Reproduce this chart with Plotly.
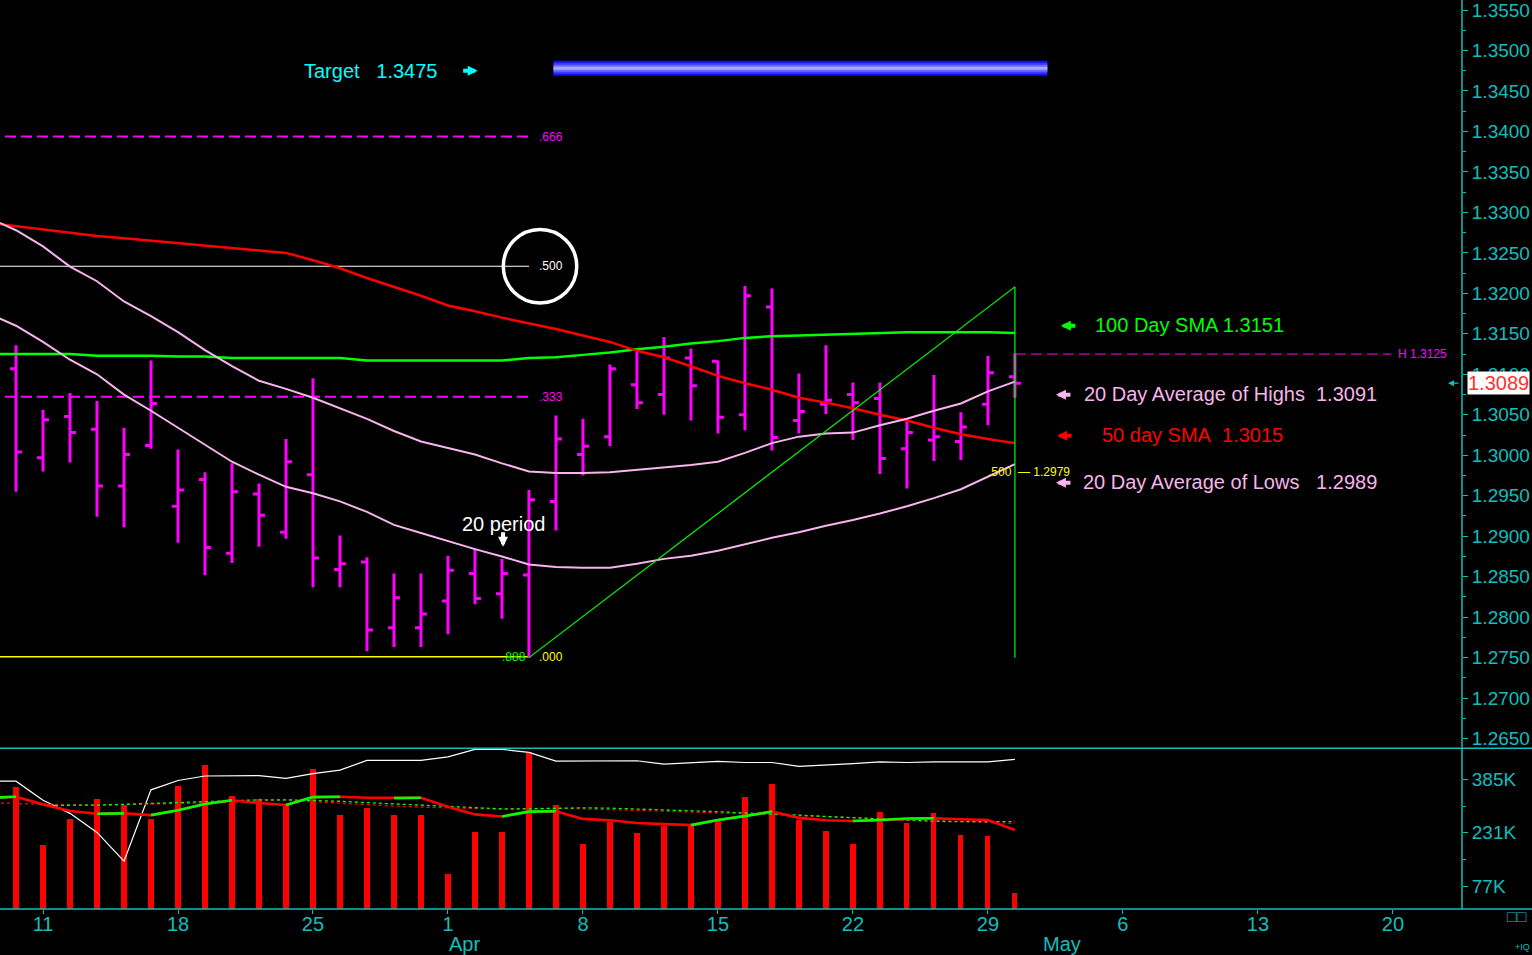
import pandas as pd
import plotly.graph_objects as go

# ---------------- data ----------------
bar_dates = [d.strftime("%Y-%m-%d") for d in pd.bdate_range("2013-03-08", "2013-04-30")]
ma_dates = ["2013-03-07"] + bar_dates

opens = [1.3107, 1.2997, 1.3048, 1.3032, 1.2962, 1.3012, 1.2937, 1.2970, 1.2879, 1.2952,
         1.2905, 1.2976, 1.2859, 1.2868, 1.2787, 1.2787, 1.2820, 1.2854, 1.2829, 1.2852,
         1.2943, 1.3001, 1.3023, 1.3087, 1.3075, 1.3120, 1.3116, 1.3050, 1.3183, 1.3043,
         1.3063, 1.3075, 1.3070, 1.3008, 1.3019, 1.3017, 1.3063, 1.3097]
highs = [1.3136, 1.3056, 1.3077, 1.3067, 1.3034, 1.3117, 1.3007, 1.2979, 1.2990, 1.2965,
         1.3020, 1.3095, 1.2901, 1.2874, 1.2854, 1.2854, 1.2876, 1.2885, 1.2872, 1.2957,
         1.3049, 1.3045, 1.3112, 1.3132, 1.3146, 1.3132, 1.3117, 1.3209, 1.3206, 1.3101,
         1.3136, 1.3090, 1.3090, 1.3041, 1.3099, 1.3053, 1.3123, 1.3126]
lows = [1.2955, 1.2980, 1.2991, 1.2924, 1.2911, 1.3008, 1.2892, 1.2852, 1.2867, 1.2887,
        1.2897, 1.2837, 1.2837, 1.2758, 1.2763, 1.2763, 1.2779, 1.2816, 1.2798, 1.2750,
        1.2907, 1.2975, 1.3011, 1.3057, 1.3050, 1.3043, 1.3027, 1.3031, 1.3006, 1.3027,
        1.3051, 1.3019, 1.2977, 1.2959, 1.2993, 1.2994, 1.3037, 1.3071]
closes = [1.3004, 1.3044, 1.3028, 1.2962, 1.3001, 1.3064, 1.2957, 1.2886, 1.2955, 1.2926,
          1.2992, 1.2873, 1.2866, 1.2784, 1.2824, 1.2804, 1.2858, 1.2823, 1.2854, 1.2945,
          1.3020, 1.3011, 1.3107, 1.3065, 1.3120, 1.3086, 1.3047, 1.3197, 1.3022, 1.3054,
          1.3068, 1.3065, 1.2996, 1.3028, 1.3023, 1.3035, 1.3102, 1.3089]

sma100 = [1.3125, 1.3125, 1.3125, 1.3125, 1.3123, 1.3123, 1.3123, 1.3122, 1.3122, 1.3120,
          1.3120, 1.3120, 1.3120, 1.3120, 1.3117, 1.3117, 1.3117, 1.3117, 1.3117, 1.3117,
          1.3120, 1.3121, 1.3124, 1.3127, 1.3131, 1.3134, 1.3138, 1.3141, 1.3145, 1.3147,
          1.3148, 1.3149, 1.3150, 1.3151, 1.3152, 1.3152, 1.3152, 1.3152, 1.3151]
sma50 = [1.3287, 1.3283, 1.3279, 1.3275, 1.3271, 1.3268, 1.3265, 1.3262, 1.3259, 1.3256,
         1.3253, 1.3250, 1.3241, 1.3231, 1.3219, 1.3208, 1.3197, 1.3185, 1.3178, 1.3170,
         1.3163, 1.3156, 1.3148, 1.3140, 1.3129, 1.3121, 1.3110, 1.3098, 1.3089, 1.3081,
         1.3071, 1.3065, 1.3058, 1.3050, 1.3043, 1.3034, 1.3026, 1.3020, 1.3015]
avg_highs = [1.3293, 1.3278, 1.3258, 1.3233, 1.3215, 1.3190, 1.3172, 1.3152, 1.3130, 1.3110,
             1.3092, 1.3082, 1.3071, 1.3058, 1.3045, 1.3030, 1.3017, 1.3009, 1.3001, 1.2990,
             1.2980, 1.2978, 1.2978, 1.2979, 1.2982, 1.2985, 1.2988, 1.2992, 1.3003, 1.3015,
             1.3023, 1.3027, 1.3028, 1.3037, 1.3045, 1.3055, 1.3064, 1.3079, 1.3091]
avg_lows = [1.3175, 1.3160, 1.3140, 1.3118, 1.3100, 1.3075, 1.3055, 1.3034, 1.3013, 1.2992,
            1.2976, 1.2961, 1.2953, 1.2943, 1.2930, 1.2914, 1.2904, 1.2894, 1.2884, 1.2875,
            1.2865, 1.2862, 1.2861, 1.2861, 1.2866, 1.2872, 1.2876, 1.2882, 1.2890, 1.2898,
            1.2905, 1.2913, 1.2920, 1.2928, 1.2937, 1.2947, 1.2958, 1.2974, 1.2989]

volume_k = [361, 194, 269, 329, 309, 269, 364, 425, 335, 329,
            309, 413, 280, 303, 280, 280, 110, 231, 231, 463,
            311, 199, 260, 228, 251, 255, 266, 332, 370, 266,
            234, 199, 289, 257, 286, 225, 220, 55]
vol_ma_k = [332, 335, 313, 294, 286, 287, 282, 296, 314, 325,
            317, 311, 334, 335, 332, 331, 332, 306, 284, 278,
            292, 293, 271, 267, 259, 256, 253, 268, 279, 292,
            274, 267, 265, 268, 272, 273, 270, 268, 239]
vol_ma_long_red_k = [318, 316, 312, 311, 311, 312, 313, 315, 317, 320,
                     324, 326, 321, 316, 311, 308, 305, 303, 301, 299,
                     301, 302, 300, 298, 296, 294, 292, 289, 287, 284,
                     280, 277, 274, 271, 268, 265, 263, 261, 258]
vol_ma_long_green_k = [310, 310, 311, 313, 316, 317, 321, 325, 326, 326,
                       325, 322, 318, 314, 310, 306, 302, 300, 300, 302,
                       303, 302, 300, 298, 296, 292, 288, 286, 282, 278,
                       274, 270, 266, 264, 263, 263, 263]
white_ind_k = [380, 380, 325, 287, 232, 149, 355, 382, 395, 396,
               396, 388, 402, 412, 440, 440, 440, 450, 472, 472,
               463, 438, 438, 440, 439, 429, 432, 437, 434, 434,
               423, 426, 431, 436, 434, 436, 436, 436, 443]

fib_high = 1.3716
fib_low = 1.2751
fib_ratios = [0.666, 0.5, 0.333, 0.0]
fib_labels = [".666", ".500", ".333", ".000"]
swing_dates = ["2013-04-04", "2013-04-30"]
swing_prices = [1.2750, 1.3208]
target_price = 1.3475

tick_dates = ["2013-03-11", "2013-03-18", "2013-03-25", "2013-04-01", "2013-04-08",
              "2013-04-15", "2013-04-22", "2013-04-29", "2013-05-06", "2013-05-13", "2013-05-20"]
month_labels = ["Apr", "May"]
month_starts = ["2013-04-01", "2013-05-01"]
vol_tick_k = [77, 231, 385]

# ---------------- helpers ----------------
calendar = pd.bdate_range("2013-03-07", "2013-05-31")
pos = {d.strftime("%Y-%m-%d"): i - 1 for i, d in enumerate(calendar)}


def xs(dates):
    return [pos[d] for d in dates]


FONT = "Liberation Sans, Arial, Helvetica, sans-serif"
AXC = "#10BEBE"
MAG = "#FF00FF"
PINK = "#F8B4EC"
GREEN = "#00FF00"
RED = "#FF0000"
CYAN = "#00FFFF"
YEL = "#FFFF00"

W, H = 1532, 955
plot_right = 1462 / W
price_bottom = 1 - 748.3 / H
vol_bottom = 1 - 909 / H

xb = xs(bar_dates)
xm = xs(ma_dates)

fig = go.Figure()

# ---- price panel ----
fig.add_trace(go.Scatter(x=xm, y=sma100, mode="lines", line=dict(color=GREEN, width=2.5),
                         hoverinfo="skip"))
fig.add_trace(go.Scatter(x=xm, y=sma50, mode="lines", line=dict(color=RED, width=2.5),
                         hoverinfo="skip"))
fig.add_trace(go.Scatter(x=xm, y=avg_highs, mode="lines", line=dict(color=PINK, width=2),
                         hoverinfo="skip"))
fig.add_trace(go.Scatter(x=xm, y=avg_lows, mode="lines", line=dict(color=PINK, width=2),
                         hoverinfo="skip"))
# retracement tool (diagonal + vertical)
sx = xs(swing_dates)
fig.add_trace(go.Scatter(x=[sx[0], sx[1], sx[1]], y=[swing_prices[0], swing_prices[1], swing_prices[0]],
                         mode="lines", line=dict(color=GREEN, width=1.2), hoverinfo="skip"))
fig.add_trace(go.Ohlc(x=xb, open=opens, high=highs, low=lows, close=closes,
                      increasing=dict(line=dict(color=MAG, width=3)),
                      decreasing=dict(line=dict(color=MAG, width=3)),
                      tickwidth=0.22, hoverinfo="skip", xaxis="x", yaxis="y"))

# ---- volume panel ----
vol = [v * 1000 for v in volume_k]
fig.add_trace(go.Bar(x=xb, y=vol, width=0.19, marker=dict(color=RED, line=dict(width=0)),
                     yaxis="y2", hoverinfo="skip"))
fig.add_trace(go.Scatter(x=xm, y=[v * 1000 for v in white_ind_k], mode="lines",
                         line=dict(color="white", width=1.2), yaxis="y2", hoverinfo="skip"))
fig.add_trace(go.Scatter(x=xm, y=[v * 1000 for v in vol_ma_long_red_k], mode="lines",
                         line=dict(color=RED, width=1.3, dash="3px,3px"), yaxis="y2", hoverinfo="skip"))
fig.add_trace(go.Scatter(x=xm[2:], y=[v * 1000 for v in vol_ma_long_green_k], mode="lines",
                         line=dict(color=GREEN, width=1.3, dash="3px,3px"), yaxis="y2", hoverinfo="skip"))
vma = [v * 1000 for v in vol_ma_k]
fig.add_trace(go.Scatter(x=xm, y=vma, mode="lines", line=dict(color=RED, width=2.6),
                         yaxis="y2", hoverinfo="skip"))
gx, gy = [], []
for i in range(1, len(vma)):
    if vma[i] > vma[i - 1]:
        gx += [xm[i - 1], xm[i], None]
        gy += [vma[i - 1], vma[i], None]
fig.add_trace(go.Scatter(x=gx, y=gy, mode="lines", line=dict(color=GREEN, width=2.6),
                         yaxis="y2", hoverinfo="skip", connectgaps=False))

# ---------------- shapes ----------------
shapes = []
low_x = pos[swing_dates[0]]
fib_styles = [dict(color=MAG, width=2, dash="11px,5px"),
              dict(color="white", width=1.2, dash="solid"),
              dict(color=MAG, width=2, dash="11px,5px"),
              dict(color=YEL, width=1.5, dash="solid")]
fib_levels = [fib_low + (fib_high - fib_low) * r for r in fib_ratios]
for lvl, st in zip(fib_levels, fib_styles):
    shapes.append(dict(type="line", xref="x", yref="y", x0=-1, x1=low_x, y0=lvl, y1=lvl,
                       line=st, layer="below"))
# circle around .500
mid = fib_levels[1]
shapes.append(dict(type="circle", xref="x", yref="y", x0=low_x + 0.41 - 1.36, x1=low_x + 0.41 + 1.36,
                   y0=mid - 0.00453, y1=mid + 0.00453, line=dict(color="white", width=3.5)))
# target bar
tx0, tx1 = pos["2013-04-05"] - 0.09, pos["2013-04-30"] + 1.2
for wdt, col in [(15, "#1010F0"), (11, "#3A3AFF"), (7, "#6A6AFF"), (3, "#A8A8FF")]:
    shapes.append(dict(type="line", xref="x", yref="y", x0=tx0, x1=tx1,
                       y0=target_price + 0.0003, y1=target_price + 0.0003,
                       line=dict(color=col, width=wdt)))
# H line from last bar high
last_x = xb[-1]
shapes.append(dict(type="line", xref="x", yref="y", x0=last_x, x1=last_x + 13.95,
                   y0=highs[-1] - 0.0001, y1=highs[-1] - 0.0001,
                   line=dict(color=MAG, width=1, dash="11px,5px")))
# panel frame lines
shapes.append(dict(type="line", xref="paper", yref="paper", x0=0, x1=1, y0=price_bottom, y1=price_bottom,
                   line=dict(color=AXC, width=1.5)))
shapes.append(dict(type="line", xref="paper", yref="paper", x0=0, x1=1, y0=vol_bottom, y1=vol_bottom,
                   line=dict(color=AXC, width=1.5)))
shapes.append(dict(type="line", xref="paper", yref="paper", x0=plot_right, x1=plot_right, y0=vol_bottom, y1=1,
                   line=dict(color=AXC, width=1.5)))

# ---------------- annotations ----------------
ann = []


def txt(x, y, text, color, size, xanchor="left", yref="y", xref="x"):
    ann.append(dict(x=x, y=y, xref=xref, yref=yref, text=text, showarrow=False,
                    font=dict(family=FONT, size=size, color=color),
                    xanchor=xanchor, yanchor="middle"))


def arrow(x, y, ax, ay, color, width=4, size=0.5, yref="y", xref="x"):
    ann.append(dict(x=x, y=y, xref=xref, yref=yref, text="", showarrow=True, ax=ax, ay=ay,
                    arrowhead=2, arrowsize=size, arrowwidth=width, arrowcolor=color,
                    font=dict(size=2), borderpad=0))


NB = "\u00a0"
# target
txt(10.6, target_price, "Target" + NB * 3 + f"{target_price:.4f}", CYAN, 20)
arrow(17.1, target_price, -15, 0, CYAN)
# fib labels
fib_colors = [MAG, "white", MAG, YEL]
for lvl, lab, col in zip(fib_levels, fib_labels, fib_colors):
    txt(low_x + 0.28, lvl, lab, col, 12)
txt(low_x - 0.05, fib_levels[3], ".888", GREEN, 12, xanchor="right")
# retracement .500 label
retr_mid = (swing_prices[0] + swing_prices[1]) / 2
txt(last_x - 0.05, retr_mid, ".500", YEL, 12, xanchor="right")
txt(last_x + 0.05, retr_mid, f"\u2014 {retr_mid:.4f}", YEL, 12)
# H label
txt(last_x + 14.1, highs[-1] - 0.0001, f"H {highs[-1] - 0.0001:.4f}", MAG, 12)
# 20 period
p20 = pos["2013-04-03"]
txt(p20 + 0.04, 1.2915, "20 period", "white", 20, xanchor="center")
arrow(p20 + 0.04, 1.2887, 0, -15, "white")
# right side MA labels
labels = [
    (1.3161, 39.89, 38.7, f"100 Day SMA {sma100[-1]:.4f}", GREEN),
    (1.30757, 39.5, 38.52, f"20 Day Average of Highs{NB * 2}{avg_highs[-1]:.4f}", PINK),
    (1.30250, 40.15, 38.56, f"50 day SMA{NB * 2}{sma50[-1]:.4f}", RED),
    (1.29670, 39.44, 38.52, f"20 Day Average of Lows{NB * 3}{avg_lows[-1]:.4f}", PINK),
]
for y, tx, ax_x, text, col in labels:
    txt(tx, y, text, col, 20)
    arrow(ax_x, y - 0.0001, 15, 0, col)
# current price box
ann.append(dict(x=1498 / W, y=closes[-1], xref="paper", yref="y", text=f"{closes[-1]:.4f}",
                showarrow=False, font=dict(family=FONT, size=20, color="#FF3030"),
                bgcolor="white", borderpad=0, xanchor="center", yanchor="middle"))
arrow(1448 / W, closes[-1], 11, 0, AXC, width=1.2, size=1, xref="paper")
# month labels
for lab, d in zip(month_labels, month_starts):
    txt(pos[d] - 0.05, 1 - 944 / H, lab, AXC, 20, yref="paper")
# bottom-right icons
txt(1517 / W, 1 - 916 / H, "\u25a1\u25a1", AXC, 16, xanchor="center", yref="paper", xref="paper")
txt(1522 / W, 1 - 947 / H, "+IQ", AXC, 9, xanchor="center", yref="paper", xref="paper")

# ---------------- layout ----------------
fig.update_layout(
    template="none",
    width=W, height=H,
    margin=dict(l=0, r=0, t=0, b=0),
    paper_bgcolor="black", plot_bgcolor="black",
    showlegend=False,
    font=dict(family=FONT, color=AXC),
    bargap=0,
    xaxis=dict(domain=[0, plot_right], anchor="y2", range=[-0.593, 53.56],
               tickmode="array", tickvals=xs(tick_dates), ticktext=[str(int(d[-2:])) for d in tick_dates],
               ticks="outside", ticklen=4, tickcolor=AXC, tickwidth=1,
               tickfont=dict(family=FONT, size=20, color=AXC),
               showgrid=False, zeroline=False, showline=False,
               rangeslider=dict(visible=False), fixedrange=True),
    yaxis=dict(domain=[price_bottom, 1], anchor="x", side="right", range=[1.26380, 1.35624],
               tick0=1.265, dtick=0.005, tickformat=".4f",
               ticks="outside", ticklen=5, tickcolor=AXC, tickwidth=1,
               minor=dict(dtick=0.0025, tick0=1.265, ticklen=3, tickcolor=AXC, ticks="outside", showgrid=False),
               tickfont=dict(family=FONT, size=19, color=AXC),
               showgrid=False, zeroline=False, showline=False, fixedrange=True),
    yaxis2=dict(domain=[vol_bottom, price_bottom], anchor="x", side="right", range=[10700, 475000],
                tickmode="array", tickvals=[v * 1000 for v in vol_tick_k],
                ticktext=[f"{v}K" for v in vol_tick_k],
                ticks="outside", ticklen=5, tickcolor=AXC, tickwidth=1,
                minor=dict(tickmode="array", tickvals=[154000, 308000], ticklen=3, tickcolor=AXC,
                           ticks="outside", showgrid=False),
                tickfont=dict(family=FONT, size=19, color=AXC),
                showgrid=False, zeroline=False, showline=False, fixedrange=True),
    shapes=shapes,
    annotations=ann,
)
try:
    fig.update_xaxes(ticklabelstandoff=-7)
except Exception:
    pass
try:
    fig.update_yaxes(ticklabeloverflow="allow")
except Exception:
    pass

fig.write_html("out.html", config={"displayModeBar": False})

# remove the browser's default page margin so the chart sits at the window origin
with open("out.html", "r", encoding="utf-8") as f:
    html = f.read()
html = html.replace("<head>", "<head><style>html,body{margin:0;padding:0;overflow:hidden;background:#000}</style>", 1)
with open("out.html", "w", encoding="utf-8") as f:
    f.write(html)
